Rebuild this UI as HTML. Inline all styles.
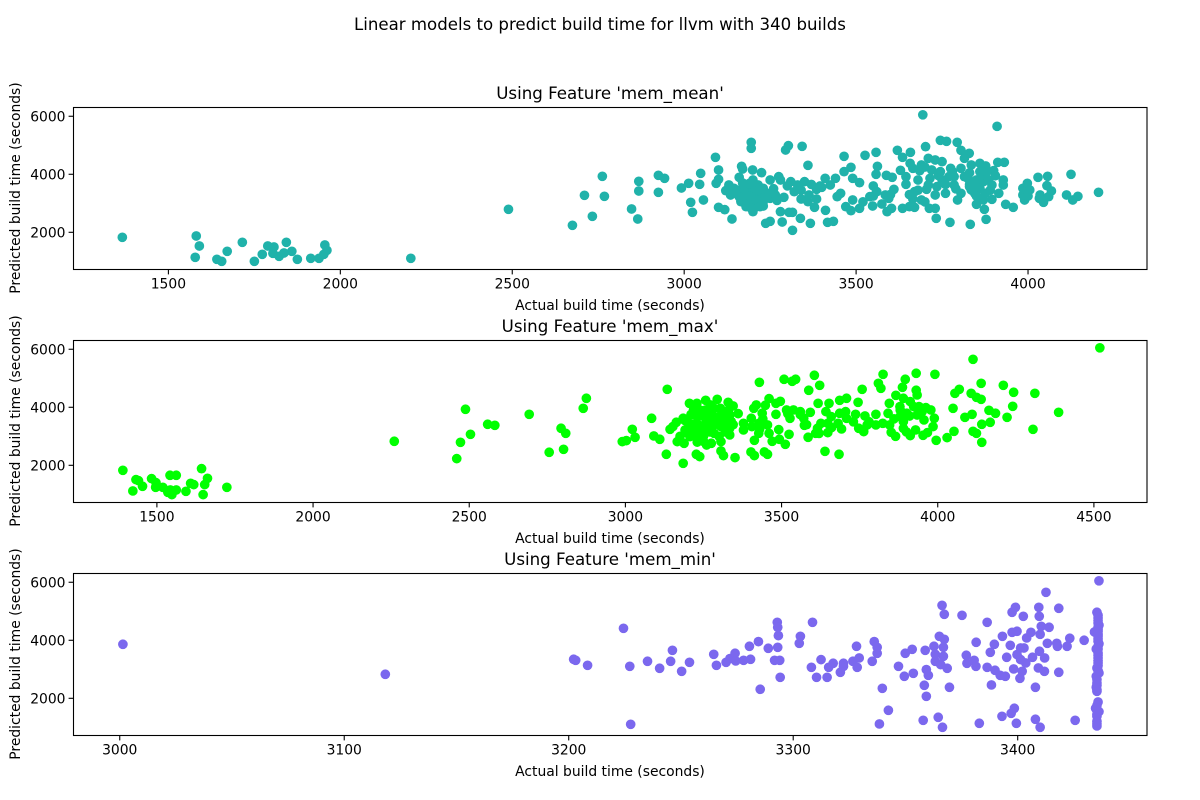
<!DOCTYPE html>
<html>
<head>
<meta charset="utf-8">
<title>Linear models to predict build time</title>
<style>
html,body{margin:0;padding:0;background:#fff;}
svg{display:block;}
text{font-family:"DejaVu Sans","Liberation Sans",sans-serif;fill:#000;}
</style>
</head>
<body>
<svg id="fig" xmlns="http://www.w3.org/2000/svg" width="1200" height="800" viewBox="0 0 1200 800">
<text x="600" y="30" font-size="16.6" text-anchor="middle">Linear models to predict build time for llvm with 340 builds</text>
</svg>
<script>
const meanActual=[1366,1581,1590,1578,1641,1655,1671,1715,1750,1773,1789,1807,1804,1822,1836,1843,1859,1875,1914,1938,1952,1961,1955,2205,2489,2675,2733,2710,2762,2768,
2847,2865,2868,2868,2925,2943,2925,2992,3013,3048,3045,3019,3056,3024,3091,3100,3100,3093,3100,3118,3139,3167,3170,3160,3130,3121,3135,3145,3163,3165,3175,3180,3200,3185,3200,3199,3225,3195,3195,3295,3303,3343,3360,3215,3215,3205,3230,3190,3210,3225,3250,3250,3230,3275,3280,3310,3330,3350,3290,3265,3340,3363,3385,3360,3379,3280,3305,3315,3338,3367,3285,3237,3250,3315,3411,3417,3434,3395,3410,3385,3425,3440,3465,3485,3490,3510,3465,3526,3558,3562,3558,3588,3605,3550,3560,3585,3595,3540,3548,3575,3590,3603,3610,3445,3455,3470,3490,3485,3510,3629,3645,3645,3680,3670,3665,3690,3635,3655,3670,3713,3730,3733,3773,3832,3878,3873,3850,3935,3957,3620,3635,3658,3657,3665,3685,3690,3702,3694,3910,3745,3763,3794,3805,3829,3815,3710,3730,3750,3775,3745,3715,3750,3705,3730,3760,3795,3805,3785,3805,3835,3860,3877,3900,3912,3931,3815,3830,3845,3860,3870,3885,3895,3928,3928,3915,3895,3870,3845,3875,3990,3985,3985,3998,4005,4029,4057,4055,4068,4035,4045,4060,4033,4112,4130,4145,4125,4205,3785,3735,3710,3720,3770,3860,3825,3185,3195,3210,3175,3220,3195,3180,3205,3190,3230,3160,3850,3835,3850,3865,3880,
3170,3215,3240,3190,3240,3150,3260,3300,3320,3270,3340,3400,3370,3600,3520,3550,3760,3790,3740,3700,3680,3830,3850,3890,3905,3830,3780,3700,3655,4000];
const meanPredicted=[1827,1873,1528,1138,1069,1000,1345,1655,1000,1241,1528,1494,1276,1172,1287,1655,1345,1069,1103,1103,1241,1379,1563,1103,2792,2241,2551,3275,3930,3240,
2804,2459,3757,3424,3964,3861,3378,3528,3689,4033,3654,3034,3114,2689,4585,4148,3826,3689,2861,2781,2459,4274,4183,3895,3631,3436,3286,3516,3459,3057,3229,2884,2712,3459,3803,4148,4056,5102,4895,4837,4987,4964,4309,3631,3286,2999,2907,3114,3459,3229,3171,3803,3516,3918,3803,3746,3631,3746,3206,3286,3149,3286,3149,3057,2861,2712,2689,2689,2482,2310,2356,2310,2379,2068,2758,2344,2379,3597,3861,3482,3631,3861,4091,4240,3861,3711,4619,4654,4757,4274,3999,3964,3895,3597,3401,3286,3171,3229,2907,2976,2712,2827,3482,3229,3344,2884,3114,2746,2827,4137,3918,3654,3803,3401,3149,3114,2827,2884,2861,2827,2827,2482,2344,2275,2448,2792,2965,2965,2861,4826,4585,4757,4378,4205,4125,4320,4952,6050,5653,5171,5136,5102,4826,4723,4550,4550,4493,4435,4205,4091,3861,3803,3482,3286,3344,3114,3344,3631,4205,4320,4378,4286,4125,4412,4412,3918,3574,3689,3516,3746,3803,3631,3803,3631,3344,3137,3114,3344,3344,3114,3286,3516,3689,3459,3895,3930,3608,3424,3286,3034,3229,3171,3286,3114,3240,3999,3378,3918,3574,3631,4148,3918,4091,3861,2999,3344,3114,3401,2884,2827,3114,3574,3689,3057,3229,3803,3459,3516,3976,4091,
3700,3450,3350,3250,3200,3350,3500,3600,3400,3100,3450,3550,3650,3300,3050,3250,3650,3500,3950,4250,3450,3650,3250,3450,3950,4050,4100,3050,3300,3250];
const maxActual=[1391,1423,1433,1441,1454,1483,1497,1496,1519,1535,1542,1562,1548,1543,1562,1593,1608,1618,1643,1662,1653,1648,1724,2260,2460,2472,2488,2504,2559,2582,2692,2756,2802,2794,2809,2865,2875,
2990,3003,3031,3022,3084,3091,3110,3131,3134,3185,3143,3166,3188,3163,3185,3152,3205,3229,3257,3294,3329,3345,3361,3218,3257,3304,3229,3251,3279,3306,3334,3202,3229,3257,3284,3317,3339,3191,3218,3246,3273,3306,3334,3207,3229,3251,3275,3306,3334,3227,3238,3306,3314,3351,3402,3413,3445,3455,3378,3378,3403,3405,3427,3438,3411,3419,3460,3448,3482,3496,3455,3460,3427,3413,3470,3491,3524,3493,3512,3429,3508,3534,3545,3587,3605,3622,3617,3482,3516,3538,3560,3527,3571,3592,3573,3585,3609,3626,3615,3639,3684,3652,3642,3659,3686,3708,3705,3686,3708,3648,3681,3692,3648,3745,3758,3737,3767,3747,3763,3774,3802,3802,3810,3818,3825,3845,3841,3824,3846,3851,3865,3896,3887,3866,3931,3991,3931,3934,3890,3912,3879,3923,3879,3901,3940,3962,3978,3989,3934,3956,3890,3890,3912,3929,3953,3967,3985,3995,4030,4052,4049,4055,4069,4087,4110,4107,4124,4139,4139,4164,4185,4168,4141,4113,4124,4141,4210,4243,4240,4222,4311,4387,4305,4113,4519,3240,3284,3213,3284,3317,3240,3295,3273,
3175,3200,3215,3240,3265,3285,3300,3320,3190,3210,3250,3270,3345,3230,3260,3330,3910,3880,3950,3900,3860,3780,3660,3620,3430,3440,3520,3560,3580,3730];
const maxPredicted=[1828,1116,1506,1472,1277,1541,1403,1242,1242,1070,1656,1656,989,1150,1150,1104,1380,1334,1885,1552,1334,989,1242,2828,2230,2793,3931,3069,3414,3379,3758,2449,2552,3276,3103,3965,4310,
2816,2851,2966,3241,3621,3012,2897,2380,4620,2069,3241,2816,2759,3483,3621,3333,4137,4137,4241,4275,4172,4046,3781,3908,3908,3965,3678,3678,3735,3735,3735,3448,3448,3448,3506,3506,3506,3218,3218,3276,3276,3333,3276,2989,2931,2816,2759,2816,3046,2380,2299,2495,2334,2265,2460,2334,2460,2380,3448,3218,3621,3333,3448,3793,3965,4080,4298,4069,4137,4206,3391,3103,3103,2862,2828,3230,3069,2897,2724,4861,4965,4896,4965,4586,5103,4758,4137,3758,3908,3908,3850,3621,3621,3827,3379,2966,3103,3448,3276,2483,2380,4137,3850,3678,4241,4310,3850,3793,3621,3448,3448,3253,3126,4172,4620,3758,3701,3276,3161,3391,3758,3391,4827,4655,5137,4137,3793,3448,3391,3138,3000,4965,4689,4413,5172,5137,4586,4425,4310,4195,4023,4023,3678,3793,4023,3988,3908,3621,3735,3563,3506,3276,3023,3218,3035,3126,3333,2862,2954,3172,3965,4482,4620,3655,3758,4482,4344,4275,4827,3896,3793,3483,3414,3172,3103,2793,4758,4517,4034,3655,4482,3827,3241,5654,6050,3161,3103,3735,3965,3793,3046,3621,4080,
3000,3100,3400,3900,3700,3400,3000,3150,3550,3750,3000,3150,3400,2800,2700,3900,3700,3900,3850,3150,3600,3500,3300,3100,3250,3600,3780,3750,3400,3500];
const minActual=[3001.4,3118.3,3202.2,3203.1,3208.4,3224.4,3227.2,3227.6,3235.1,3240.5,3245.4,3246.2,3250.3,3253.8,3264.6,3265.8,3270.1,3271.8,3274.1,3274.4,3277.9,3281,3280.5,3284.5,3288.9,3293.1,3291.7,3294,3292.9,3293.1,3293.4,3294.2,3285.3,3302.7,3303.2,3308.6,3308.1,3312.4,3310.4,3315.1,3315.8,3317.8,3321,3322.4,3322.4,3326.6,3329.4,3328.5,3328.2,3335.2,3337.4,3337.4,3336.1,3339.7,3342.4,3338.4,3346.9,3349.9,3353,3349.5,3353.5,3358.8,3359.3,3360.2,3358.4,3359.3,3357.9,3364.6,3366.5,3369.6,3368.6,3362.7,3363.3,3365.1,3367.3,3366.9,3366.9,3363.3,3365.7,3367.3,3366.3,3375.2,3377.1,3377.4,3380.6,3381.4,3381.5,3382.9,3386.4,3386.4,3387.8,3389.6,3389.9,3388.3,3392.2,3394.5,3393.2,3393,3397.1,3398.5,3397.5,3399,3402.5,3397.5,3399.7,3396.7,3395.1,3398.2,3402,3401,3404,3405.9,3399.4,3407.9,3410,3407.9,3409.4,3409.6,3412.6,3418.3,3418.3,3410.5,3410,3414,3413.2,3417.4,3417.7,3422,3423.2,3429.6,3425.6,3409.2,3411.9,3412,3409.7,3406.6,3403.6,3401.3,3402.8,3399.7,3401.3,
3436.2,3435.3,3435.8,3435.8,3435.8,3435.8,3435.8,3435.8,3435.8,3435.8,3435.8,3435.8,3434.2,3435,3435.3,3436.2,3435,3435.3,3435,3435.3,3435.8,3434.7,3436.2,3435.3,3435.3,3435.3,
3435.8,3435.8,3436.2,3435.8,3435.8,3435.8,3436.2,3435.8,3435.8,3435.8,3435.8,3435.8,3435.3,3435.3,3435.3,3435.3,3435.3,3435.3];
const minPredicted=[3862,2828,3345,3310,3138,4413,3103,1104,3276,3035,3276,3655,2931,3241,3517,3138,3241,3368,3552,3287,3310,3345,3793,3954,3724,3758,3310,3310,4620,4448,4161,2724,2311,3896,4137,4620,3069,3333,2724,2724,3069,3207,2897,3207,3103,3276,3391,3069,3793,3276,3552,3758,3954,2345,1587,1116,3103,3552,3689,2759,2862,3655,2989,2793,2449,2069,1242,1346,1001,2380,3035,3793,3517,4137,4034,3758,3448,3276,3161,4896,5206,4861,3483,3207,3310,3103,3931,1139,4620,3069,3586,3862,2966,2460,2793,2759,4137,1380,1483,1656,4965,5137,4827,4275,4310,3827,3414,3012,2931,2690,4080,4275,1139,1277,1001,2380,5137,4827,5654,5103,2897,4482,4206,4448,3896,3896,3793,3793,4069,4000,1242,3046,2931,3391,3621,3414,3218,3735,3735,3506,3333,
6050,4965,4770,4597,4448,4310,4137,3965,3793,3563,3391,3218,4287,3701,3046,2874,2759,2529,2380,2242,1874,1656,1541,1380,1208,1047,
4860,4680,4520,4380,4220,4050,3880,3700,3480,3300,3130,2950,2650,2450,2300,1750,1450,1120];
const yTicks=[2000,4000,6000];
const meanXTicks=[1500,2000,2500,3000,3500,4000];
const maxXTicks=[1500,2000,2500,3000,3500,4000,4500];
const minXTicks=[3000,3100,3200,3300,3400];

const NS='http://www.w3.org/2000/svg';
const fig=document.getElementById('fig');
const AX_L=73.5,AX_R=1147;

function el(tag,attrs,parent){
  const e=document.createElementNS(NS,tag);
  for(const k in attrs)e.setAttribute(k,attrs[k]);
  parent.appendChild(e);
  return e;
}

function drawPanel(key,title,top,xDomain,xTicks,xs,ys,color){
  const bottom=top+162;
  const yDomain=[735,6319];
  const sx=v=>AX_L+(v-xDomain[0])/(xDomain[1]-xDomain[0])*(AX_R-AX_L);
  const sy=v=>bottom-(v-yDomain[0])/(yDomain[1]-yDomain[0])*(bottom-top);

  const g=el('g',{},fig);
  
  

  const t=el('text',{x:610,y:top-8,'font-size':16.67,'text-anchor':'middle'},g);
  t.textContent=title;
  
  

  xs.forEach((v,i)=>{
    const c=el('circle',{cx:sx(v).toFixed(2),cy:sy(ys[i]).toFixed(2),r:4.85,fill:color},g);
    
    
  });

  const frame=el('rect',{x:AX_L,y:top+0.5,width:AX_R-AX_L,height:162,fill:'none',stroke:'#000','stroke-width':1.1},g);
  
  

  xTicks.forEach(v=>{
    const p=sx(v);
    const l=el('line',{x1:p,x2:p,y1:bottom+0.5,y2:bottom+5.4,stroke:'#000','stroke-width':1.1},g);
    
    
    const lab=el('text',{x:p,y:bottom+19.5,'font-size':13.89,'text-anchor':'middle'},g);
    lab.textContent=v;
    
    
  });
  yTicks.forEach(v=>{
    const p=sy(v);
    const l=el('line',{x1:AX_L-4.9,x2:AX_L,y1:p,y2:p,stroke:'#000','stroke-width':1.1},g);
    
    
    const lab=el('text',{x:AX_L-8,y:p+5,'font-size':13.89,'text-anchor':'end'},g);
    lab.textContent=v;
    
    
  });

  const xt=el('text',{x:610,y:bottom+41,'font-size':13.89,'text-anchor':'middle'},g);
  xt.textContent='Actual build time (seconds)';
  
  

  const yc=top+81;
  const yt=el('text',{x:20,y:yc,'font-size':13.89,'text-anchor':'middle',transform:'rotate(-90 20 '+yc+')'},g);
  yt.textContent='Predicted build time (seconds)';
  
  
}

drawPanel('mem-mean',"Using Feature 'mem_mean'",107,[1224,4346],meanXTicks,meanActual,meanPredicted,'#20b2aa');
drawPanel('mem-max',"Using Feature 'mem_max'",340,[1233,4670],maxXTicks,maxActual,maxPredicted,'#00ff00');
drawPanel('mem-min',"Using Feature 'mem_min'",573,[2979.4,3457.6],minXTicks,minActual,minPredicted,'#7b68ee');
</script>
</body>
</html>
